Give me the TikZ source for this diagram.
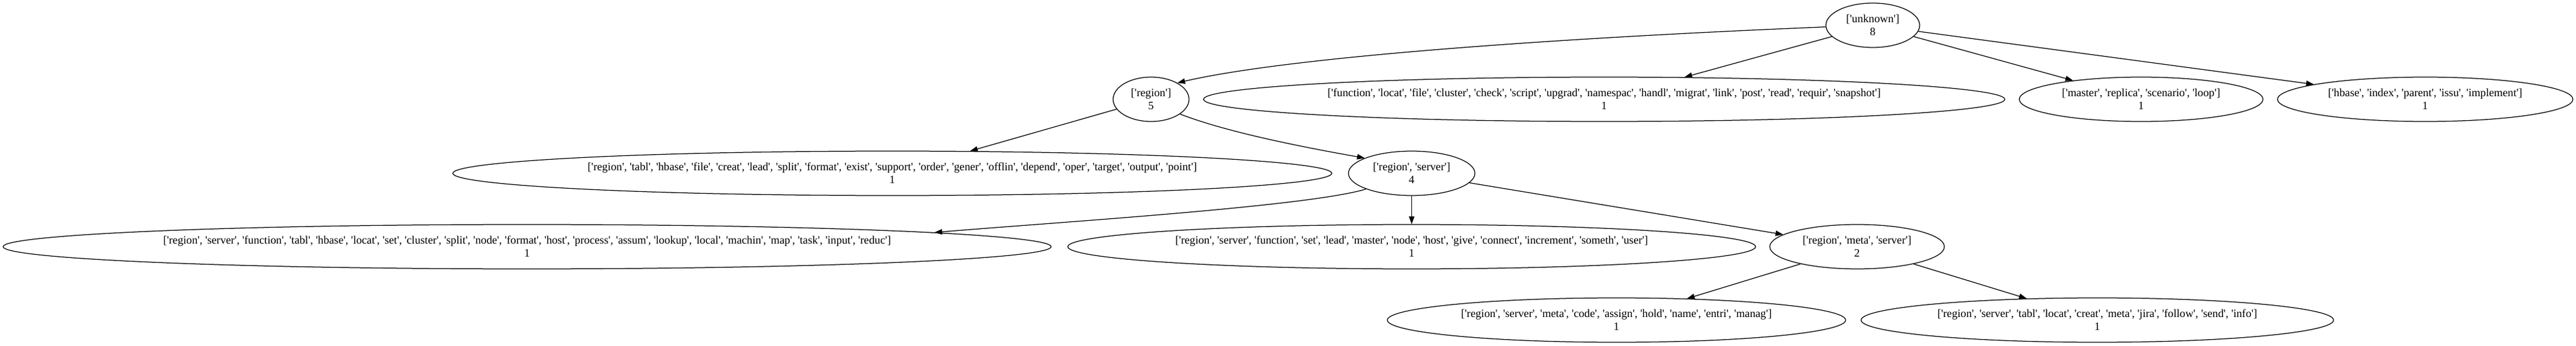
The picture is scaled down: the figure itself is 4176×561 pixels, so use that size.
\documentclass[tikz,border=0pt]{standalone}
\usepackage{fontspec}
\setmainfont{Liberation Serif}
\usetikzlibrary{arrows.meta,shapes.geometric}
\newcommand\w[1]{\textquotesingle#1\textquotesingle}
\begin{document}
\begin{tikzpicture}[x=1pt,y=-1pt,
  gnode/.style={draw,ellipse,line width=1.25pt,inner sep=0pt,minimum height=72pt,
    align=center,font=\fontsize{18.2}{21}\selectfont},
  edge/.style={line width=1.25pt,-{Triangle[length=12.5pt,width=8.75pt]}}]
\fill[white] (0,0) rectangle (4176,561);
\useasboundingbox (0,0) rectangle (4176,561);
% rank 0
\node[gnode,minimum width=152pt] (unk) at (3036,41) {[\w{unknown}]\\8};
% rank 1
\node[gnode,minimum width=123pt] (reg) at (1866,161) {[\w{region}]\\5};
\node[gnode,minimum width=1299pt] (fun) at (2600.5,161) {[\w{function}, \w{locat}, \w{file}, \w{cluster}, \w{check}, \w{script}, \w{upgrad}, \w{namespac}, \w{handl}, \w{migrat}, \w{link}, \w{post}, \w{read}, \w{requir}, \w{snapshot}]\\1};
\node[gnode,minimum width=395pt] (mas) at (3471,161) {[\w{master}, \w{replica}, \w{scenario}, \w{loop}]\\1};
\node[gnode,minimum width=479pt] (hbs) at (3931.5,161) {[\w{hbase}, \w{index}, \w{parent}, \w{issu}, \w{implement}]\\1};
% rank 2
\node[gnode,minimum width=1425pt] (tab) at (1446.5,281) {[\w{region}, \w{tabl}, \w{hbase}, \w{file}, \w{creat}, \w{lead}, \w{split}, \w{format}, \w{exist}, \w{support}, \w{order}, \w{gener}, \w{offlin}, \w{depend}, \w{oper}, \w{target}, \w{output}, \w{point}]\\1};
\node[gnode,minimum width=205pt] (rs) at (2288.5,281) {[\w{region}, \w{server}]\\4};
% rank 3
\node[gnode,minimum width=1699pt] (rsf) at (854.5,400) {[\w{region}, \w{server}, \w{function}, \w{tabl}, \w{hbase}, \w{locat}, \w{set}, \w{cluster}, \w{split}, \w{node}, \w{format}, \w{host}, \w{process}, \w{assum}, \w{lookup}, \w{local}, \w{machin}, \w{map}, \w{task}, \w{input}, \w{reduc}]\\1};
\node[gnode,minimum width=1115pt] (rss) at (2288.5,400) {[\w{region}, \w{server}, \w{function}, \w{set}, \w{lead}, \w{master}, \w{node}, \w{host}, \w{give}, \w{connect}, \w{increment}, \w{someth}, \w{user}]\\1};
\node[gnode,minimum width=283pt] (rms) at (3010.5,400) {[\w{region}, \w{meta}, \w{server}]\\2};
% rank 4
\node[gnode,minimum width=743pt] (rb1) at (2620.5,519) {[\w{region}, \w{server}, \w{meta}, \w{code}, \w{assign}, \w{hold}, \w{name}, \w{entri}, \w{manag}]\\1};
\node[gnode,minimum width=766pt] (rb2) at (3400,519) {[\w{region}, \w{server}, \w{tabl}, \w{locat}, \w{creat}, \w{meta}, \w{jira}, \w{follow}, \w{send}, \w{info}]\\1};
% edges
\draw[edge] (unk.182) .. controls (2560,60) and (2100,90) .. (reg.32);
\draw[edge] (unk) -- (fun);
\draw[edge] (unk) -- (mas);
\draw[edge] (unk) -- (hbs);
\draw[edge] (reg) -- (tab);
\draw[edge] (reg.333) .. controls (1990,215) and (2120,240) .. (rs.162);
\draw[edge] (rs.199) .. controls (2122,335) and (1703,361) .. (rsf.2.5);
\draw[edge] (rs) -- (rss);
\draw[edge] (rs) -- (rms);
\draw[edge] (rms) -- (rb1);
\draw[edge] (rms) -- (rb2);
\end{tikzpicture}
\end{document}
